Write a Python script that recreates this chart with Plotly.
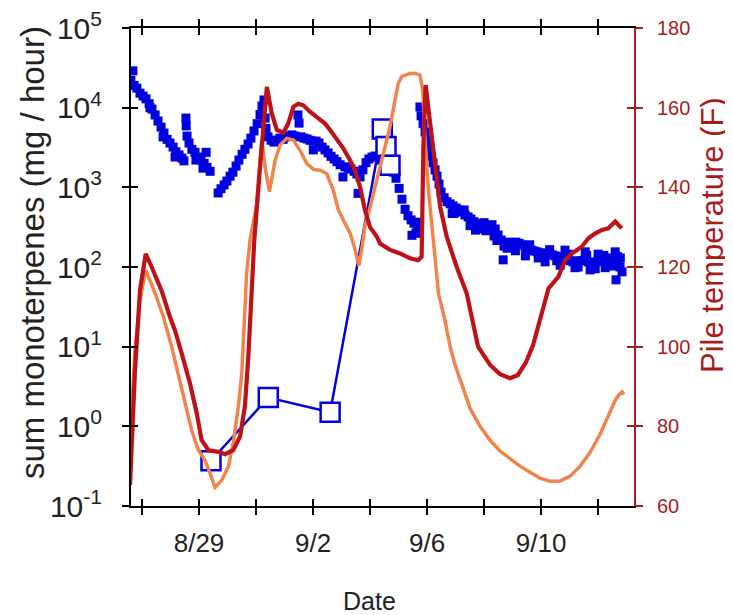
import plotly.graph_objects as go
import pandas as pd

# ---------------- data (days since Aug 27, 00:00) ----------------
BASE = pd.Timestamp("2013-08-27")

emis_days = [
    -0.39, -0.32, -0.28, -0.18, -0.07, 0.04, 0.14, 0.25, 0.28, 0.35, 0.46, 0.56, 0.67, 0.74, 0.77,
    0.88, 0.98, 1.09, 1.16, 1.19, 1.30, 1.40, 1.47,
    1.54, 1.55, 1.58, 1.65, 1.75, 1.86, 1.89, 1.96, 2.07, 2.14, 2.18, 2.25, 2.28, 2.39,
    2.67, 2.77, 2.88, 2.98, 3.09, 3.19, 3.30, 3.40, 3.51, 3.61, 3.72, 3.82, 3.93, 4.04, 4.14,
    4.21, 4.28, 4.32, 4.35,
    4.42, 4.53, 4.63, 4.74, 4.84, 4.95, 5.05, 5.16, 5.26, 5.37, 5.47, 5.51, 5.58, 5.68, 5.79,
    5.89, 6.00, 6.01, 6.11, 6.21, 6.32, 6.42, 6.53, 6.63, 6.74, 6.84, 6.95, 7.05, 7.12, 7.23,
    7.33, 7.44, 7.54, 7.58, 7.65, 7.75, 7.86, 7.96, 8.07, 8.18, 8.28, 8.39, 8.49, 8.60, 8.70,
    8.81, 8.91, 9.02, 9.12, 9.23, 9.33, 9.44, 9.47, 9.54, 9.61, 9.65, 9.72,
    9.75, 9.79, 9.86, 9.93, 10.00, 10.07, 10.14, 10.21, 10.28, 10.35, 10.42, 10.49, 10.60,
    10.70, 10.81, 10.88, 10.91, 11.02, 11.12, 11.23, 11.33, 11.44, 11.51, 11.54, 11.65, 11.75,
    11.86, 11.96, 12.07, 12.18, 12.28, 12.35, 12.39, 12.49, 12.60, 12.67, 12.70, 12.81, 12.91,
    13.02, 13.12, 13.23, 13.33, 13.44, 13.45, 13.54, 13.65, 13.75, 13.86, 13.96, 14.07, 14.14,
    14.18, 14.28, 14.39, 14.49, 14.60, 14.67, 14.70, 14.81, 14.84, 14.91, 15.02, 15.12, 15.19,
    15.23, 15.33, 15.44, 15.54, 15.55, 15.65, 15.72, 15.75, 15.86, 15.96, 16.00, 16.07, 16.18,
    16.25, 16.28, 16.39, 16.49, 16.50, 16.60, 16.63, 16.70, 16.77, 16.78, 16.84,
    # extra readings that widen the band
    10.95, 11.30, 11.70, 12.00, 12.45, 12.85, 13.10, 13.60, 13.90, 14.30, 14.55, 14.95,
    15.30, 15.60, 15.90, 16.20, 16.45, 16.68,
]
emis_values = [
    22000, 29000, 19000, 17600, 15200, 14000, 12900, 11200, 10000, 9600, 8100, 6800, 5700, 4300, 4800,
    4000, 3600, 3200, 2400, 2800, 2550, 2330, 2150,
    7400, 5900, 4400, 3600, 3000, 2750, 2200, 2400, 2200, 1740, 2000, 2750, 1780, 1590,
    850, 960, 1070, 1200, 1380, 1550, 1850, 2200, 2600, 3000, 3500, 4150, 5100, 6300, 8200,
    10500, 12500, 7400, 5500,
    4300, 3900, 3700, 3900, 4150, 4000, 4300, 4400, 4550, 4400, 8100, 6400, 4300, 4150, 4050,
    3900, 3800, 2950, 3800, 3600, 3200, 2950, 2700, 2450, 2270, 2100, 1920, 1350, 1810, 1750,
    1700, 1590, 1470, 840, 1350, 1660, 2040, 2270, 2400, 2470, 2400, 2200, 2080, 1910, 1750,
    1550, 1300, 970, 710, 530, 440, 390, 250, 355, 265, 335, 365,
    10200, 7900, 6300, 4950, 3900, 3100, 2450, 2030, 1660, 1380, 1100, 870, 740,
    660, 620, 470, 585, 550, 520, 490, 450, 425, 330, 400, 370, 350,
    330, 300, 285, 310, 340, 245, 300, 252, 218, 123, 183, 172, 183,
    194, 205, 198, 190, 178, 138, 168, 163, 159, 155, 150, 150, 116,
    146, 146, 142, 138, 134, 105, 134, 130, 163, 126, 120, 116, 98,
    116, 120, 120, 123, 155, 116, 92, 113, 113, 116, 145, 120, 123,
    98, 123, 126, 130, 103, 155, 69, 116, 100, 130, 87,
    470, 520, 290, 360, 215, 205, 160, 190, 130, 165, 120, 145,
    100, 140, 95, 140, 108, 135,
]

sample_days = [2.42, 4.43, 6.60, 8.43, 8.56, 8.70]
sample_values = [0.37, 2.3, 1.5, 5400, 3250, 1900]

pile_days = [
    -0.42, -0.25, -0.07, 0.13, 0.34, 0.69, 0.98, 1.16, 1.39, 1.68, 1.92, 2.09, 2.33, 2.68,
    2.91, 3.20, 3.44, 3.61, 3.73, 3.85, 3.94, 4.16, 4.38, 4.55, 4.73, 4.96, 5.13, 5.31, 5.48,
    5.66, 5.89, 6.19, 6.42, 6.60, 6.83, 7.06, 7.30, 7.47, 7.65, 7.82, 8.00, 8.24, 8.35, 8.70,
    9.05, 9.40, 9.69, 9.81, 9.87, 9.95, 10.11, 10.28, 10.46, 10.69, 11.04, 11.39, 11.79,
    12.21, 12.56, 12.91, 13.19, 13.47, 13.72, 13.96, 14.26, 14.61, 14.84, 15.08, 15.43,
    15.66, 15.89, 16.13, 16.36, 16.60, 16.71, 16.83,
]
pile_temp = [
    65.3, 93.4, 114.2, 123.3, 120.0, 114.0, 107.5, 104.0, 98.4, 90.9, 83.3, 76.6, 74.0, 73.6,
    73.0, 74.0, 77.4, 85.0, 97.5, 114.0, 126.8, 146.8, 165.2, 158.6, 154.4, 153.7, 156.0,
    160.2, 161.0, 160.6, 159.0, 157.3, 156.0, 154.4, 152.3, 149.8, 146.8, 144.3, 140.1, 134.3,
    130.0, 127.6, 125.9, 124.3, 123.4, 122.2, 121.7, 122.6, 150.0, 165.7, 156.0, 145.2, 135.1,
    127.6, 120.0, 113.4, 100.0, 95.4, 93.1, 92.1, 92.9, 96.1, 100.4, 106.7, 114.6, 117.6,
    121.7, 123.4, 125.1, 127.2, 128.4, 129.3, 129.7, 131.4, 130.5, 129.7,
]

pile2_days = [
    -0.42, -0.25, -0.07, 0.13, 0.46, 0.75, 1.04, 1.27, 1.51, 1.74, 1.98, 2.21, 2.39, 2.56,
    2.80, 3.03, 3.20, 3.38, 3.50, 3.59, 3.67, 3.79, 4.02, 4.20, 4.32, 4.47, 4.67, 4.84, 5.08,
    5.31, 5.54, 5.78, 6.01, 6.25, 6.48, 6.71, 6.88, 7.06, 7.30, 7.47, 7.61, 7.72, 7.82, 8.00,
    8.18, 8.35, 8.53, 8.70, 8.88, 8.99, 9.11, 9.40, 9.61, 9.75, 9.85, 9.93, 10.05, 10.22,
    10.40, 10.63, 10.81, 10.98, 11.23, 11.51, 11.86, 12.21, 12.56, 12.91, 13.26, 13.61,
    13.96, 14.32, 14.67, 15.02, 15.37, 15.72, 16.07, 16.35, 16.60, 16.74, 16.84, 16.91,
]
pile2_temp = [
    75.0, 99.0, 111.7, 119.2, 113.4, 107.5, 100.0, 93.3, 85.8, 79.0, 74.0, 71.5, 68.2, 64.7,
    66.5, 69.9, 75.7, 85.0, 93.3, 105.9, 118.4, 126.8, 135.6, 151.9, 145.0, 138.9, 146.8,
    150.6, 152.3, 151.9, 149.3, 146.0, 144.5, 144.3, 143.4, 139.3, 134.5, 131.8, 128.5, 124.5,
    120.3, 125.0, 130.1, 135.0, 140.0, 145.2, 150.5, 155.2, 162.0, 166.1, 167.8, 168.6, 168.6,
    168.2, 164.4, 151.9, 139.3, 126.8, 113.4, 106.5, 100.0, 95.5, 90.0, 84.5, 80.0, 76.5,
    73.8, 71.8, 70.0, 68.5, 67.0, 66.2, 66.3, 67.5, 70.0, 73.5, 78.0, 82.5, 86.5, 88.0, 88.6,
    88.0,
]

x_tick_days = [0, 2, 4, 6, 8, 10, 12, 14, 16]
x_tick_text = ["", "8/29", "", "9/2", "", "9/6", "", "9/10", ""]
y_tick_vals = [0.1, 1, 10, 100, 1000, 10000, 100000]
y_tick_text = ["10<sup>-1</sup>", "10<sup>0</sup>", "10<sup>1</sup>", "10<sup>2</sup>",
               "10<sup>3</sup>", "10<sup>4</sup>", "10<sup>5</sup>"]
t_tick_vals = [60, 80, 100, 120, 140, 160, 180]


def to_dates(days):
    return [BASE + pd.Timedelta(days=d) for d in days]


BLUE = "#0000E0"
DARKRED = "#BE1218"
ORANGE = "#F0844C"
AXISRED = "#A81C1C"
FONT = "Liberation Sans, Arial, sans-serif"

fig = go.Figure()

fig.add_trace(go.Scatter(
    x=to_dates(emis_days), y=emis_values, mode="markers",
    marker=dict(symbol="square", size=9, color=BLUE, line=dict(width=0)),
    xaxis="x", yaxis="y", showlegend=False))

fig.add_trace(go.Scatter(
    x=to_dates(sample_days), y=sample_values, mode="lines+markers",
    line=dict(color=BLUE, width=2.5),
    marker=dict(symbol="square", size=19, color="white", line=dict(color=BLUE, width=2.5)),
    xaxis="x", yaxis="y", showlegend=False))

fig.add_trace(go.Scatter(
    x=to_dates(pile2_days), y=pile2_temp, mode="lines",
    line=dict(color=ORANGE, width=3.5),
    xaxis="x", yaxis="y2", showlegend=False))

fig.add_trace(go.Scatter(
    x=to_dates(pile_days), y=pile_temp, mode="lines",
    line=dict(color=DARKRED, width=4.2),
    xaxis="x", yaxis="y2", showlegend=False))

# empty helper traces so that the inside-tick axes are drawn
fig.add_trace(go.Scatter(x=[], y=[], xaxis="x3", yaxis="y3", showlegend=False, hoverinfo="skip"))
fig.add_trace(go.Scatter(x=[], y=[], xaxis="x", yaxis="y4", showlegend=False, hoverinfo="skip"))

x_range = [BASE + pd.Timedelta(days=-0.386), BASE + pd.Timedelta(days=17.26)]
x_ticks = to_dates(x_tick_days)

common_x = dict(type="date", range=x_range, tickvals=x_ticks, showgrid=False, zeroline=False,
                ticklen=7, tickwidth=2, tickcolor="black", automargin=False)
fig.update_layout(
    # page body has an 8px margin, so the figure is 8px smaller than the window
    width=725, height=607,
    margin=dict(l=123, r=99, t=20, b=109, autoexpand=False),
    paper_bgcolor="white", plot_bgcolor="white",
    font=dict(family=FONT, color="black"),
    xaxis=dict(**common_x, ticktext=x_tick_text, ticks="outside", mirror="ticks",
               showline=True, linecolor="black", linewidth=2,
               tickfont=dict(size=26, color="#222222"), ticklabelstandoff=6, anchor="y",
               ticklabeloverflow="allow"),
    xaxis3=dict(**common_x, ticktext=x_tick_text, ticks="inside", mirror="ticks",
                overlaying="x", showticklabels=False, showline=False, anchor="y3"),
    yaxis=dict(type="log", range=[-1, 5], tickvals=y_tick_vals, ticktext=y_tick_text,
               ticks="outside", ticklen=7, tickwidth=2, tickcolor="black",
               showline=True, linecolor="black", linewidth=2, showgrid=False, zeroline=False,
               tickfont=dict(size=30, color="#222222"), ticklabelstandoff=14, automargin=False,
               ticklabeloverflow="allow"),
    yaxis3=dict(type="log", range=[-1, 5], tickvals=y_tick_vals, overlaying="y",
                ticks="inside", ticklen=7, tickwidth=2, tickcolor="black", side="left",
                showticklabels=False, showline=False, showgrid=False, zeroline=False,
                anchor="x3", automargin=False),
    yaxis2=dict(range=[60, 180], tickvals=t_tick_vals, overlaying="y", side="right",
                ticks="outside", ticklen=7, tickwidth=2, tickcolor=AXISRED,
                showline=True, linecolor=AXISRED, linewidth=2, showgrid=False, zeroline=False,
                tickfont=dict(size=20, color=AXISRED), ticklabelstandoff=10, anchor="x",
                automargin=False, ticklabeloverflow="allow"),
    yaxis4=dict(range=[60, 180], tickvals=t_tick_vals, overlaying="y", side="right",
                ticks="inside", ticklen=7, tickwidth=2, tickcolor=AXISRED,
                showticklabels=False, showline=False, showgrid=False, zeroline=False,
                anchor="x", automargin=False),
    annotations=[
        dict(text="sum monoterpenes (mg / hour)", xref="paper", yref="paper",
             x=-0.197, y=0.531, textangle=-90, showarrow=False,
             font=dict(size=33, color="#222222"), xanchor="center", yanchor="middle"),
        dict(text="Pile temperature (F)", xref="paper", yref="paper",
             x=1.157, y=0.567, textangle=-90, showarrow=False,
             font=dict(size=31, color=AXISRED), xanchor="center", yanchor="middle"),
        dict(text="Date", xref="paper", yref="paper", x=0.475, y=-0.199,
             showarrow=False, font=dict(size=25, color="#222222"),
             xanchor="center", yanchor="middle"),
    ],
)

fig.write_html("out.html")
